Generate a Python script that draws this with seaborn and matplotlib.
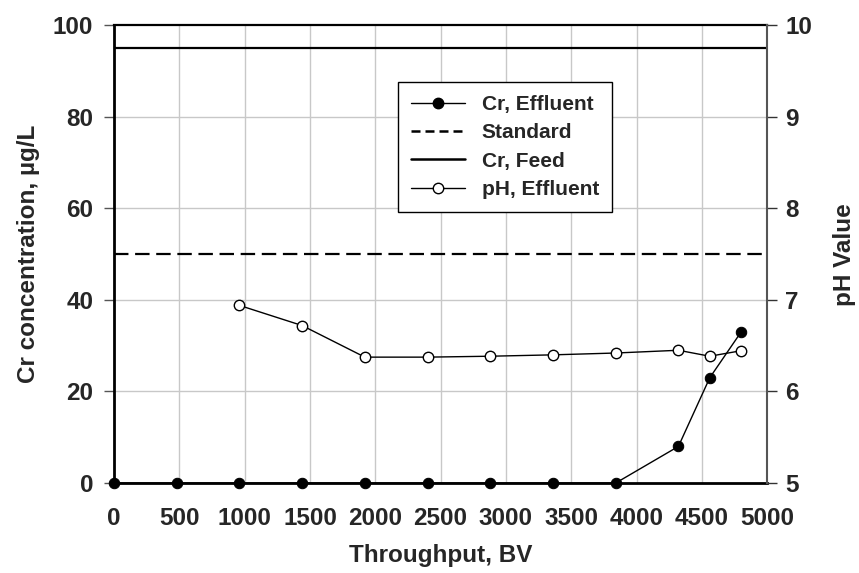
import matplotlib
matplotlib.use("Agg")
import matplotlib.pyplot as plt
from matplotlib.lines import Line2D
import seaborn as sns
import pandas as pd

# Breakthrough data: throughput in bed volumes
throughput_bv = [0, 480, 960, 1440, 1920, 2400, 2880, 3360, 3840, 4320, 4560, 4800]
cr_effluent = [0, 0, 0, 0, 0, 0, 0, 0, 0, 8, 23, 33]

ph_throughput_bv = [960, 1440, 1920, 2400, 2880, 3360, 3840, 4320, 4560, 4800]
ph_effluent = [6.94, 6.72, 6.375, 6.375, 6.385, 6.40, 6.42, 6.45, 6.385, 6.445]

cr_standard = 50
cr_feed = 95

x_ticks = [0, 500, 1000, 1500, 2000, 2500, 3000, 3500, 4000, 4500, 5000]
cr_ticks = [0, 20, 40, 60, 80, 100]
ph_ticks = [5, 6, 7, 8, 9, 10]

sns.set_style("white")
plt.rcParams["font.family"] = ["Liberation Sans", "DejaVu Sans"]
plt.rcParams["font.weight"] = "bold"

fig = plt.figure(figsize=(8.59, 5.73), dpi=100)
ax = fig.add_axes([0.1327, 0.157, 0.7605, 0.799])
ax2 = ax.twinx()

cr_df = pd.DataFrame({"bv": throughput_bv, "cr": cr_effluent})
ph_df = pd.DataFrame({"bv": ph_throughput_bv, "ph": ph_effluent})

grid_c = "#c8c8c8"
for xv in x_ticks[1:-1]:
    ax.axvline(xv, color=grid_c, lw=1.0, zorder=0)
for yv in cr_ticks[1:-1]:
    ax.axhline(yv, color=grid_c, lw=1.0, zorder=0)

dash = (0, (6.5, 3))
ax.axhline(cr_feed, color="black", lw=1.6, zorder=2)
ax.axhline(cr_standard, color="black", lw=1.6, ls=dash, zorder=2)

sns.lineplot(data=cr_df, x="bv", y="cr", ax=ax, color="black", lw=1.0,
             marker="o", markersize=7.5, markerfacecolor="black",
             markeredgecolor="black", zorder=4, clip_on=False)
sns.lineplot(data=ph_df, x="bv", y="ph", ax=ax2, color="black", lw=1.0,
             marker="o", markersize=7.5, markerfacecolor="white",
             markeredgecolor="black", markeredgewidth=1.0, zorder=4,
             clip_on=False)

ax.set_xlim(0, 5000)
ax.set_ylim(0, 100)
ax2.set_ylim(5, 10)
ax.set_xticks(x_ticks)
ax.set_yticks(cr_ticks)
ax2.set_yticks(ph_ticks)

tick_fs = 17.5
ax.set_xticklabels([str(v) for v in x_ticks], fontsize=tick_fs, fontweight="bold")
ax.set_yticklabels([str(v) for v in cr_ticks], fontsize=tick_fs, fontweight="bold")
ax2.set_yticklabels([str(v) for v in ph_ticks], fontsize=tick_fs, fontweight="bold")

ax.tick_params(axis="x", direction="out", length=6, width=1, color="#555555", pad=11)
ax.tick_params(axis="y", direction="out", length=7, width=1, color="#555555", pad=8)
ax2.tick_params(axis="y", direction="out", length=7, width=1, color="#333333", pad=6)

label_fs = 17.5
ax.set_xlabel("Throughput, BV", fontsize=label_fs, fontweight="bold", labelpad=10)
ax.set_ylabel("Cr concentration, µg/L", fontsize=label_fs, fontweight="bold", labelpad=9)
ax2.set_ylabel("pH Value", fontsize=label_fs, fontweight="bold", labelpad=15)

for name, sp in ax.spines.items():
    sp.set_color("black")
    sp.set_linewidth(2.0 if name in ("left", "bottom") else 1.6)
ax.spines["right"].set_visible(False)
for name, sp in ax2.spines.items():
    sp.set_visible(name == "right")
ax2.spines["right"].set_color("#555555")
ax2.spines["right"].set_linewidth(1.5)
ax2.patch.set_visible(False)

handles = [
    Line2D([], [], color="black", lw=1.0, marker="o", markersize=7.5,
           markerfacecolor="black", markeredgecolor="black"),
    Line2D([], [], color="black", lw=1.8, ls=(0, (3.6, 2.0))),
    Line2D([], [], color="black", lw=1.8),
    Line2D([], [], color="black", lw=1.0, marker="o", markersize=7.5,
           markerfacecolor="white", markeredgecolor="black"),
]
labels = ["Cr, Effluent", "Standard", "Cr, Feed", "pH, Effluent"]
leg = ax2.legend(handles, labels, loc="upper left", bbox_to_anchor=(0.435, 0.876),
                 frameon=True, fancybox=False, edgecolor="black", framealpha=1,
                 prop={"size": 15, "weight": "bold"}, handlelength=2.6,
                 labelspacing=0.45, borderpad=0.62, handletextpad=0.8,
                 borderaxespad=0)
leg.get_frame().set_linewidth(1.0)

fig.savefig("out.png", dpi=100)
